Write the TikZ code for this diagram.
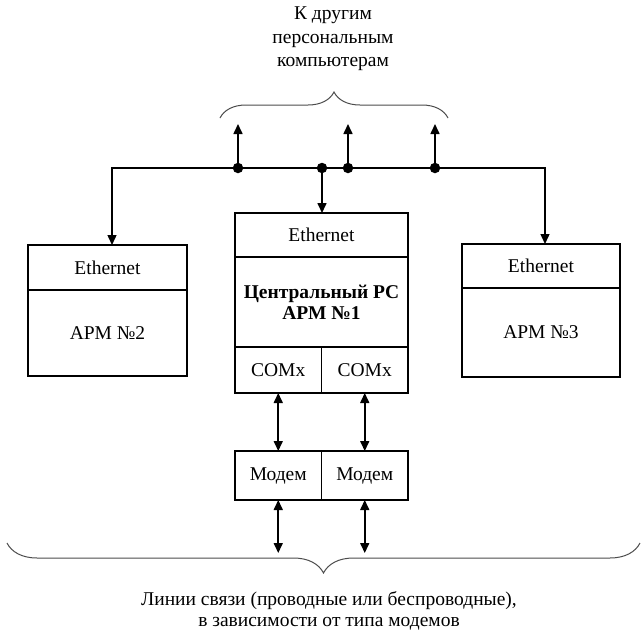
\documentclass[tikz,border=0pt]{standalone}
\usepackage{fontspec}
\setmainfont{Liberation Serif}
\usetikzlibrary{arrows.meta,positioning,decorations.pathreplacing}

\begin{document}
\begin{tikzpicture}[x=1pt, y=-1pt,
  cell/.style={draw, line width=1.3pt, inner sep=0pt, outer sep=0pt, align=center,
    font=\fontsize{19.5}{21}\selectfont},
  link/.style={-{Triangle[length=10pt,width=9pt]}, line width=1.6pt},
  duplex/.style={{Triangle[length=10pt,width=9pt]}-{Triangle[length=10pt,width=9pt]}, line width=1.6pt},
  tap/.style={circle, fill, inner sep=0pt, minimum size=10.5pt},
  note/.style={align=center, font=\fontsize{19.5}{23.5}\selectfont},
  curly/.style={decorate, decoration={brace, amplitude=#1}, line width=1pt, draw=black!70}
]
\useasboundingbox (0,0) rectangle (641,638);
\node[note] (others) at (333,39) {К другим\\персональным\\компьютерам};
\draw[curly=26pt] (220,118) -- (448,118);
\node[cell, minimum width=159pt, minimum height=45pt] (eth2) at (107.5,267.5) {Ethernet};
\node[cell, minimum width=159pt, minimum height=86pt, below=0pt of eth2] (arm2) {АРМ №2};
\node[cell, minimum width=158pt, minimum height=44pt] (eth3) at (541,266) {Ethernet};
\node[cell, minimum width=158pt, minimum height=89pt, below=0pt of eth3] (arm3) {АРМ №3};
\node[cell, minimum width=173pt, minimum height=44pt] (eth1) at (321.5,235) {Ethernet};
\node[cell, minimum width=173pt, minimum height=90pt, below=0pt of eth1,
  font=\fontsize{19.5}{21}\selectfont\bfseries] (pc1) {Центральный PC\\АРМ №1};
\node[cell, minimum width=86.5pt, minimum height=46pt, anchor=north west] (comA) at (pc1.south west) {COMx};
\node[cell, minimum width=86.5pt, minimum height=46pt, anchor=north east] (comB) at (pc1.south east) {COMx};
\node[cell, minimum width=86.5pt, minimum height=49pt, anchor=north west] (modemA) at (235,451) {Модем};
\node[cell, minimum width=86.5pt, minimum height=49pt, anchor=north west] (modemB) at (modemA.north east) {Модем};
\coordinate (busL) at (112,168);
\coordinate (busR) at (545,168);
\draw[duplex, line width=1.4pt] (busL |- eth2.north) -- (busL) -- (busR) -- (busR |- eth3.north);
\node[tap] (t1) at (238,168) {};
\node[tap] (t2) at (322,168) {};
\node[tap] (t3) at (348,168) {};
\node[tap] (t4) at (435,168) {};
\coordinate (up1) at (238,124);
\coordinate (up3) at (348,124);
\coordinate (up4) at (435,124);
\draw[link] (t1) -- (up1);
\draw[link] (t3) -- (up3);
\draw[link] (t4) -- (up4);
\draw[link] (t2) -- (t2 |- eth1.north);
\draw[duplex] (comA.south) -- (modemA.north);
\draw[duplex] (comB.south) -- (modemB.north);
\path (modemA.south) ++(0,53) coordinate (endA);
\path (modemB.south) ++(0,53) coordinate (endB);
\draw[duplex] (modemA.south) -- (endA);
\draw[duplex] (modemB.south) -- (endB);
\draw[curly=30pt] (640,543) -- (7,543);
\node[note, font=\fontsize{19.5}{21}\selectfont] (lines) at (329,611) {Линии связи (проводные или беспроводные),\\в зависимости от типа модемов};
\end{tikzpicture}
\end{document}
